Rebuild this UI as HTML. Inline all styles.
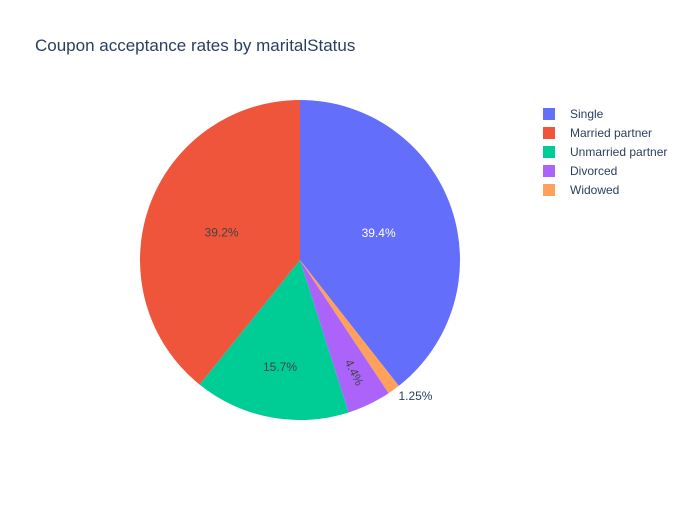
<!DOCTYPE html>
<html><head><meta charset="utf-8"><style>
body{margin:0;background:#fff;font-family:"Liberation Sans",sans-serif;}
svg text{font-family:"Liberation Sans",sans-serif;}
</style></head><body>
<svg id="chart" width="700" height="500">
<rect width="700" height="500" fill="#fff"/>
<text x="35" y="51" font-size="17" fill="#2a3f5f">Coupon acceptance rates by maritalStatus</text>
<g id="slices"></g><g id="labels"></g><g id="legend"></g>
</svg>
<script>
const categories=["Single","Married partner","Unmarried partner","Divorced","Widowed"];
const values=[39.4,39.2,15.7,4.43,1.25];
const valueLabels=["39.4%","39.2%","15.7%","4.4%","1.25%"];
const colors=["#636efa","#EF553B","#00cc96","#ab63fa","#FFA15A"];
const drawOrder=[0,4,3,2,1];
const cx=300,cy=260,R=160,NS="http://www.w3.org/2000/svg";
const total=values.reduce((a,b)=>a+b,0);
function pt(a,r){const t=a*Math.PI/180;return [cx+r*Math.sin(t),cy-r*Math.cos(t)];}
const sg=document.getElementById('slices'),lg=document.getElementById('labels'),leg=document.getElementById('legend');
let ang=0;
drawOrder.forEach(i=>{
  const sweep=values[i]/total*360,a0=ang,a1=ang+sweep;ang=a1;
  const p0=pt(a0,R),p1=pt(a1,R);
  const p=document.createElementNS(NS,'path');
  p.setAttribute('d',`M${cx},${cy}L${p0[0]},${p0[1]}A${R},${R} 0 ${sweep>180?1:0} 1 ${p1[0]},${p1[1]}Z`);
  p.setAttribute('fill',colors[i]);
  
  
  sg.appendChild(p);
  const mid=(a0+a1)/2,frac=values[i]/total;
  const t=document.createElementNS(NS,'text');
  t.setAttribute('font-size','12');
  t.textContent=valueLabels[i];
  if(frac<0.02){
    const q=pt(mid,R+8);
    t.setAttribute('x',q[0]);t.setAttribute('y',q[1]+4);t.setAttribute('fill','#2a3f5f');
  } else {
    const rf=frac>0.3?0.52:(frac>0.1?0.68:0.78);
    const q=pt(mid,R*rf);
    t.setAttribute('x',q[0]);t.setAttribute('y',q[1]+4);t.setAttribute('text-anchor','middle');
    t.setAttribute('fill',i===0?'#fff':'#444');
    if(frac<0.1)t.setAttribute('transform',`rotate(${mid-90} ${q[0]} ${q[1]})`);
  }
  
  
  lg.appendChild(t);
});
categories.forEach((c,i)=>{
  const y=114+i*19;
  const g=document.createElementNS(NS,'g');
  
  
  const r=document.createElementNS(NS,'rect');
  r.setAttribute('x',543);r.setAttribute('y',y-6);r.setAttribute('width',12);r.setAttribute('height',12);r.setAttribute('fill',colors[i]);
  
  
  const t=document.createElementNS(NS,'text');
  t.setAttribute('x',570);t.setAttribute('y',y+4);t.setAttribute('font-size','12');t.setAttribute('fill','#2a3f5f');
  t.textContent=c;
  
  
  g.appendChild(r);g.appendChild(t);leg.appendChild(g);
});
</script>
</body></html>
